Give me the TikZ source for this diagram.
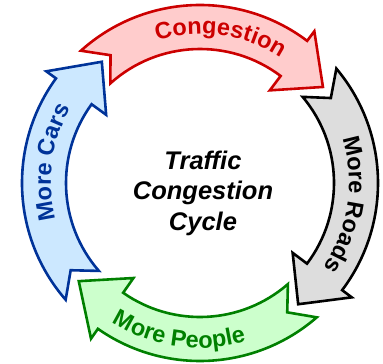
\documentclass[tikz,border=0pt]{standalone}
\usepackage{fontspec}
\setmainfont{Liberation Sans}
\usetikzlibrary{decorations.text}
\definecolor{congred}{HTML}{CC0000}
\definecolor{congfill}{HTML}{FFCCCC}
\definecolor{roadfill}{HTML}{DDDDDD}
\definecolor{peoplegreen}{HTML}{008000}
\definecolor{peoplefill}{HTML}{CCFFCC}
\definecolor{carblue}{HTML}{003399}
\definecolor{carfill}{HTML}{CCE8FF}
\newcommand{\arrowfont}{\fontsize{23.5}{27}\selectfont\bfseries}
\newcommand{\centerfont}{\fontsize{25.5}{30.5}\selectfont\bfseries\itshape}
% tail angle, head base angle, tip angle, colours
\newcommand{\cyclearrow}[4]{%
  \draw[cyc arrow,#4] (#1:178pt) arc[start angle=#1,end angle=#2,radius=178pt]
    -- (#2:190pt) -- (#3:156pt) -- (#2:116pt) -- (#2:134pt)
    arc[start angle=#2,end angle=#1,radius=134pt] -- ({#1-7}:156pt) -- cycle;}
\tikzset{
  cyc arrow/.style={line width=2.6pt,line join=miter},
  arrow label/.style={decorate,decoration={text along path,text align=center,text color=#1}}
}

\begin{document}
\begin{tikzpicture}
\useasboundingbox (-200pt,-181pt) rectangle (183pt,183pt);
% the four arrows of the cycle
\cyclearrow{132}{53}{38}{draw=congred,fill=congfill}
\cyclearrow{40}{-37}{-51}{draw=black,fill=roadfill}
\cyclearrow{-49}{-125}{-141}{draw=peoplegreen,fill=peoplefill}
\cyclearrow{221}{144}{129}{draw=carblue,fill=carfill}
% labels along the arrows
\path[arrow label=congred,decoration={text={|\arrowfont|Congestion}}]
  (142:149pt) arc[start angle=142,end angle=22,radius=149pt];
\path[arrow label=black,decoration={text={|\arrowfont|More Roads}}]
  (51.5:149pt) arc[start angle=51.5,end angle=-68.5,radius=149pt];
\path[arrow label=peoplegreen,decoration={text={|\arrowfont|More People}}]
  (-158:165pt) arc[start angle=-158,end angle=-38,radius=165pt];
\path[arrow label=carblue,decoration={text={|\arrowfont|More Cars}}]
  (232:149pt) arc[start angle=232,end angle=112,radius=149pt];
\node[align=center,font=\centerfont] (title) at (3pt,-10pt) {Traffic\\Congestion\\Cycle};
\end{tikzpicture}
\end{document}
